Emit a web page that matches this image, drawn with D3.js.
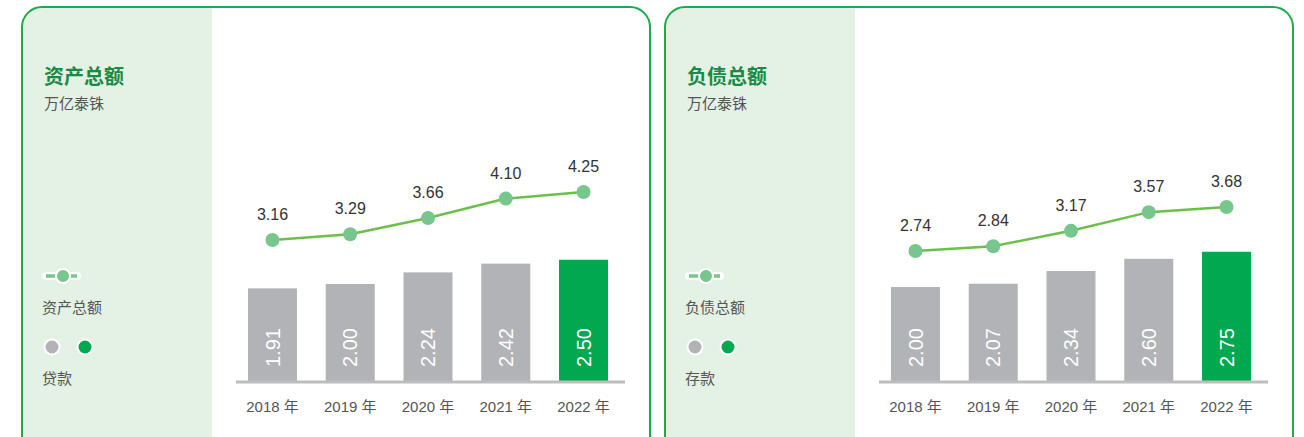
<!DOCTYPE html>
<html>
<head>
<meta charset="utf-8">
<script src="https://cdn.jsdelivr.net/npm/d3@7"></script>
<style>
  body { margin: 0; background: #fff; }
  text { font-family: "Liberation Sans", "Noto Sans CJK SC", Arial, sans-serif; }
</style>
</head>
<body>
<svg id="chart"></svg>
<script>
// Data
const years = ["2018 年", "2019 年", "2020 年", "2021 年", "2022 年"];
const assetTotals = [3.16, 3.29, 3.66, 4.10, 4.25];
const loans = [1.91, 2.00, 2.24, 2.42, 2.50];
const liabilityTotals = [2.74, 2.84, 3.17, 3.57, 3.68];
const deposits = [2.00, 2.07, 2.34, 2.60, 2.75];

const panels = [
  { title: "资产总额", unit: "万亿泰铢", lineName: "资产总额", barName: "贷款", line: assetTotals, bars: loans, lineTop: 192, barTop: 381 - 3 * 48.5 },
  { title: "负债总额", unit: "万亿泰铢", lineName: "负债总额", barName: "存款", line: liabilityTotals, bars: deposits, lineTop: 207, barTop: 381 - 3 * 47 }
];

const width = 1304;
const height = 437;
const panelOffset = 643;

const gray = "#b1b3b6";
const green = "#00a84f";
const lineColor = "#6cc04a";
const dotColor = "#77c68c";
const borderColor = "#1aac4a";
const sideBg = "#e3f2e4";

const svg = d3.select("#chart")
    .attr("width", width)
    .attr("height", height);

const baseline = 381;

panels.forEach((p, i) => {
    const g = svg.append("g").attr("transform", `translate(${i * panelOffset},0)`);

    // clip for the rounded card
    const clipId = "card" + i;
    g.append("clipPath").attr("id", clipId)
        .append("rect")
        .attr("x", 22).attr("y", 7)
        .attr("width", 628).attr("height", 470)
        .attr("rx", 20);

    g.append("rect")
        .attr("x", 22).attr("y", 7)
        .attr("width", 190).attr("height", 470)
        .attr("fill", sideBg)
        .attr("clip-path", `url(#${clipId})`);

    g.append("rect")
        .attr("x", 22).attr("y", 7)
        .attr("width", 628).attr("height", 470)
        .attr("rx", 20)
        .attr("fill", "none")
        .attr("stroke", borderColor)
        .attr("stroke-width", 2);

    // Title and unit
    g.append("text")
        .attr("x", 44).attr("y", 84)
        .attr("fill", "#1a8a44")
        .attr("font-size", 20)
        .attr("font-weight", "bold")
        .text(p.title);
    g.append("text")
        .attr("x", 44).attr("y", 109)
        .attr("fill", "#555")
        .attr("font-size", 15)
        .text(p.unit);

    // Legend
    const lg = g.append("g");
    lg.append("line")
        .attr("x1", 46).attr("x2", 77)
        .attr("y1", 276).attr("y2", 276)
        .attr("stroke", "#fff").attr("stroke-width", 8).attr("stroke-linecap", "round");
    lg.append("line")
        .attr("x1", 46).attr("x2", 77)
        .attr("y1", 276).attr("y2", 276)
        .attr("stroke", dotColor).attr("stroke-width", 3.5);
    lg.append("circle")
        .attr("cx", 63).attr("cy", 276).attr("r", 7)
        .attr("fill", dotColor).attr("stroke", "#fff").attr("stroke-width", 2);
    lg.append("text")
        .attr("x", 42).attr("y", 313)
        .attr("fill", "#555").attr("font-size", 15)
        .text(p.lineName);
    lg.selectAll("circle.sw")
        .data([gray, green])
        .join("circle")
        .attr("class", "sw")
        .attr("cx", (d, j) => 52 + j * 33)
        .attr("cy", 347)
        .attr("r", 7.5)
        .attr("fill", d => d)
        .attr("stroke", "#fff").attr("stroke-width", 2);
    lg.append("text")
        .attr("x", 42).attr("y", 384)
        .attr("fill", "#555").attr("font-size", 15)
        .text(p.barName);

    // Scales
    const x = d3.scaleBand()
        .domain(years)
        .range([236, 620])
        .paddingInner(0.37)
        .paddingOuter(0.154);

    const yBar = d3.scaleLinear()
        .domain([0, 3])
        .range([baseline, p.barTop]);

    const lineMax = d3.max(p.line);
    const yLine = d3.scaleLinear()
        .domain([0, lineMax])
        .range([379, p.lineTop]);

    // Bars
    g.selectAll("rect.bar")
        .data(p.bars)
        .join("rect")
        .attr("class", "bar")
        .attr("x", (d, j) => x(years[j]))
        .attr("y", d => yBar(d))
        .attr("width", x.bandwidth())
        .attr("height", d => baseline - yBar(d))
        .attr("fill", (d, j) => j === years.length - 1 ? green : gray);

    // Bar value labels (rotated)
    g.selectAll("text.barval")
        .data(p.bars)
        .join("text")
        .attr("class", "barval")
        .attr("transform", (d, j) => `translate(${x(years[j]) + x.bandwidth() / 2},${baseline - 14}) rotate(-90)`)
        .attr("dy", "0.36em")
        .attr("fill", "#fff")
        .attr("font-size", 20)
        .text(d => d.toFixed(2));

    // Axis baseline
    g.append("line")
        .attr("x1", 236).attr("x2", 625)
        .attr("y1", baseline + 1).attr("y2", baseline + 1)
        .attr("stroke", "#bdbdbd").attr("stroke-width", 3);

    // X labels
    const xAxis = d3.axisBottom(x).tickSize(0).tickPadding(0);
    const ax = g.append("g")
        .attr("transform", `translate(0,${baseline + 20})`)
        .call(xAxis);
    ax.select(".domain").remove();
    ax.selectAll("text")
        .attr("dy", "0.71em")
        .attr("fill", "#555")
        .attr("font-size", 15);

    // Line
    const line = d3.line()
        .x((d, j) => x(years[j]) + x.bandwidth() / 2)
        .y(d => yLine(d));

    g.append("path")
        .datum(p.line)
        .attr("d", line)
        .attr("fill", "none")
        .attr("stroke", lineColor)
        .attr("stroke-width", 2.5);

    g.selectAll("circle.pt")
        .data(p.line)
        .join("circle")
        .attr("class", "pt")
        .attr("cx", (d, j) => x(years[j]) + x.bandwidth() / 2)
        .attr("cy", d => yLine(d))
        .attr("r", 7)
        .attr("fill", dotColor);

    g.selectAll("text.ptval")
        .data(p.line)
        .join("text")
        .attr("class", "ptval")
        .attr("x", (d, j) => x(years[j]) + x.bandwidth() / 2)
        .attr("y", d => yLine(d) - 20)
        .attr("text-anchor", "middle")
        .attr("fill", "#333")
        .attr("font-size", 16)
        .text(d => d.toFixed(2));
});
</script>
</body>
</html>
